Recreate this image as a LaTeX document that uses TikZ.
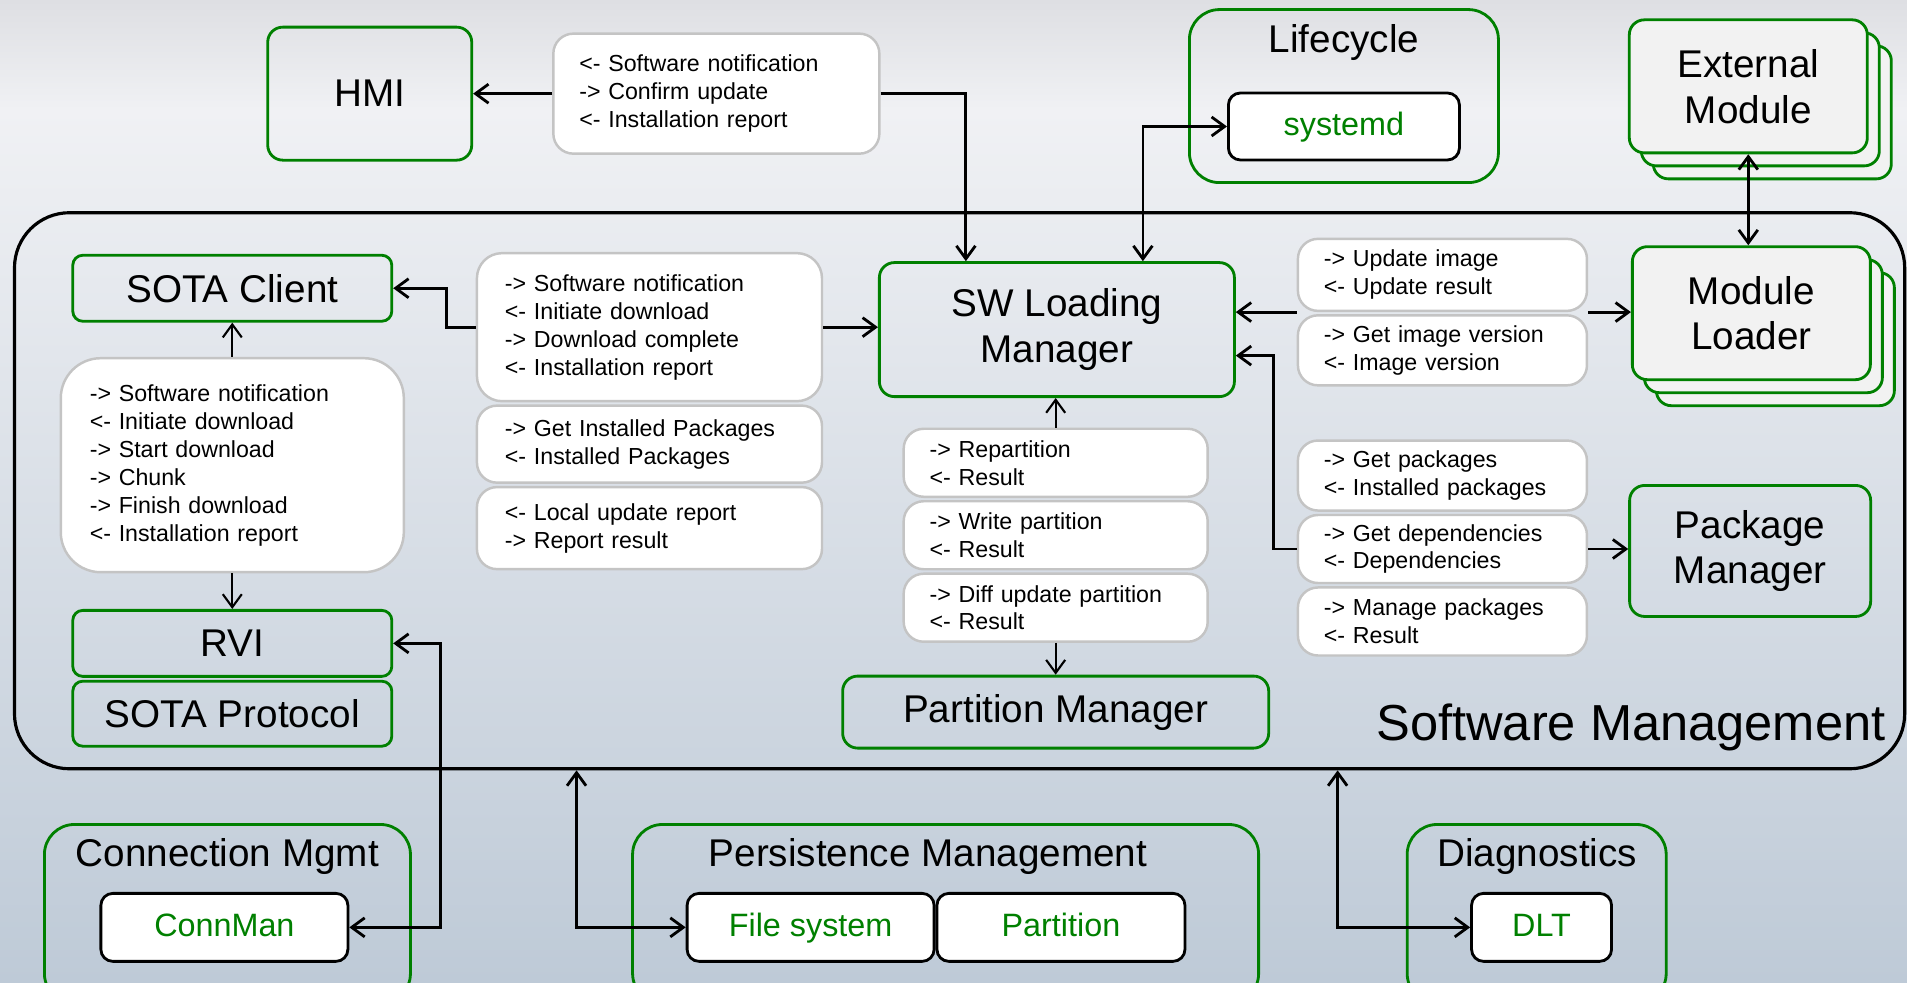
\documentclass[tikz,border=0pt]{standalone}
\usepackage{fontspec}
\setmainfont{Liberation Sans}
\usetikzlibrary{positioning,arrows.meta,shadows}

\definecolor{sgreen}{RGB}{0,128,0}
\definecolor{msgline}{RGB}{196,196,196}
\definecolor{modfill}{RGB}{242,242,242}
\definecolor{bgtop}{RGB}{222,223,227}
\definecolor{bgmid}{RGB}{240,241,244}
\definecolor{bgbot}{RGB}{190,202,215}

\begin{document}
\begin{tikzpicture}[
        x=0.012162cm,
        y=-0.012162cm,
        gbox/.style={
            rectangle,
            draw=sgreen,
            line width=0.8pt,
            rounded corners=0.15cm,
            align=center,
            font=\fontsize{11}{13}\selectfont
        },
        modbox/.style={
            gbox,
            fill=modfill,
            minimum width=2.38cm,
            minimum height=1.33cm,
            copy shadow={shadow xshift=0.24cm, shadow yshift=-0.26cm, draw=sgreen, fill=modfill, line width=0.8pt},
            copy shadow={shadow xshift=0.12cm, shadow yshift=-0.13cm, draw=sgreen, fill=modfill, line width=0.8pt}
        },
        msgbox/.style={
            rectangle,
            draw=msgline,
            fill=white,
            line width=0.7pt,
            rounded corners=0.2cm,
            align=left,
            inner xsep=0.26cm,
            inner ysep=0pt,
            font=\fontsize{6.6}{7.95}\selectfont
        },
        inbox/.style={
            rectangle,
            draw=black,
            fill=white,
            line width=0.8pt,
            rounded corners=0.12cm,
            text=sgreen,
            text height=0.72em,
            text depth=0.22em,
            minimum height=0.68cm,
            font=\fontsize{9.2}{11}\selectfont
        },
        group/.style={
            rectangle,
            draw=sgreen,
            line width=0.8pt,
            rounded corners=0.3cm
        },
        grouptitle/.style={
            font=\fontsize{11}{13}\selectfont
        },
        arrow/.style={
            ->,
            line width=0.8pt,
            >={Straight Barb[length=1.3mm,width=1.9mm]}
        },
        thinarrow/.style={
            arrow,
            line width=0.6pt
        },
        biarrow/.style={
            arrow,
            <->
        }
    ]

    % Background
    \useasboundingbox (0,0) rectangle (1568,808);
    \clip (0,0) rectangle (1568,808);
    \shade[top color=bgtop, bottom color=bgmid] (0,0) rectangle (1568,90);
    \shade[top color=bgmid, bottom color=bgbot] (0,90) rectangle (1568,808);

    % Software Management frame
    \node[rectangle, draw=black, line width=0.9pt, rounded corners=0.55cm,
          minimum width=18.9cm, minimum height=5.56cm] (sw_mgmt) at (789,403.5) {};
    \node[font=\fontsize{14.4}{17}\selectfont] (sw_mgmt_label) at (1341,598) {Software Management};

    % HMI
    \node[gbox, minimum width=2.04cm, minimum height=1.33cm] (hmi) at (304,77) {HMI};
    \node[msgbox, text width=2.74cm, minimum height=1.2cm] (hmi_msg) at (589,77)
        {<- Software notification\\-> Confirm update\\<- Installation report};

    % Lifecycle
    \node[group, minimum width=3.09cm, minimum height=1.73cm] (lifecycle) at (1105,79) {};
    \node[grouptitle] (lifecycle_title) at (1105,35) {Lifecycle};
    \node[inbox, minimum width=2.31cm, minimum height=0.67cm] (systemd) at (1105,104) {systemd};

    % External modules
    \node[modbox] (ext_module) at (1437.5,71) {External\\Module};
    \node[modbox] (mod_loader) at (1440,257.5) {Module\\Loader};

    % SOTA client side
    \node[gbox, rounded corners=0.1cm, minimum width=3.19cm, minimum height=0.66cm] (sota_client) at (191,237) {SOTA Client};
    \node[msgbox, rounded corners=0.4cm, inner xsep=0.29cm, text width=2.85cm, minimum height=2.14cm] (sota_msg) at (191,382.5)
        {-> Software notification\\<- Initiate download\\-> Start download\\-> Chunk\\-> Finish download\\<- Installation report};
    \node[gbox, rounded corners=0.1cm, minimum width=3.19cm, minimum height=0.66cm] (rvi) at (191,529) {RVI};
    \node[gbox, rounded corners=0.1cm, minimum width=3.19cm, minimum height=0.65cm, below=0.02cm of rvi] (sota_proto) {SOTA Protocol};

    % Messages to SW Loading Manager
    \node[msgbox, rounded corners=0.25cm, inner xsep=0.28cm, text width=2.89cm, minimum height=1.48cm] (cli_msg1) at (534,269)
        {-> Software notification\\<- Initiate download\\-> Download complete\\<- Installation report};
    \node[msgbox, inner xsep=0.28cm, text width=2.89cm, minimum height=0.77cm, below=0.02cm of cli_msg1] (cli_msg2)
        {-> Get Installed Packages\\<- Installed Packages};
    \node[msgbox, inner xsep=0.28cm, text width=2.89cm, minimum height=0.82cm, below=0.02cm of cli_msg2] (cli_msg3)
        {<- Local update report\\-> Report result};

    % SW Loading Manager
    \node[gbox, minimum width=3.55cm, minimum height=1.34cm] (swlm) at (869,271) {SW Loading\\Manager};

    % Partition messages
    \node[msgbox, text width=2.52cm, minimum height=0.68cm] (part_msg1) at (868,380.5) {-> Repartition\\<- Result};
    \node[msgbox, text width=2.52cm, minimum height=0.68cm, below=0.02cm of part_msg1] (part_msg2) {-> Write partition\\<- Result};
    \node[msgbox, text width=2.52cm, minimum height=0.68cm, below=0.02cm of part_msg2] (part_msg3) {-> Diff update partition\\<- Result};
    \node[gbox, minimum width=4.26cm, minimum height=0.72cm] (part_mgr) at (868,585.5) {Partition Manager};

    % Module loader messages
    \node[msgbox, text width=2.37cm, minimum height=0.72cm] (mod_msg1) at (1186,226) {-> Update image\\<- Update result};
    \node[msgbox, text width=2.37cm, minimum height=0.7cm, below=0.02cm of mod_msg1] (mod_msg2) {-> Get image version\\<- Image version};

    % Package messages
    \node[msgbox, text width=2.37cm, minimum height=0.7cm] (pkg_msg1) at (1186,391) {-> Get packages\\<- Installed packages};
    \node[msgbox, text width=2.37cm, minimum height=0.68cm, below=0.02cm of pkg_msg1] (pkg_msg2) {-> Get dependencies\\<- Dependencies};
    \node[msgbox, text width=2.37cm, minimum height=0.68cm, below=0.02cm of pkg_msg2] (pkg_msg3) {-> Manage packages\\<- Result};
    \node[gbox, minimum width=2.41cm, minimum height=1.31cm] (pkg_mgr) at (1439,453) {Package\\Manager};

    % Bottom groups
    \node[group, minimum width=3.66cm, minimum height=1.79cm] (conn_mgmt) at (187,751.5) {};
    \node[grouptitle] (conn_title) at (187,704) {Connection Mgmt};
    \node[inbox, minimum width=2.47cm] (connman) at (184.5,762.5) {ConnMan};

    \node[group, minimum width=6.26cm, minimum height=1.79cm] (persist) at (777.5,751.5) {};
    \node[grouptitle] (persist_title) at (763,704) {Persistence Management};
    \node[inbox, minimum width=2.47cm] (file_system) at (666.5,762.5) {File system};
    \node[inbox, minimum width=2.48cm, right=0cm of file_system] (partition) {Partition};

    \node[group, minimum width=2.59cm, minimum height=1.79cm] (diag) at (1263.5,751.5) {};
    \node[grouptitle] (diag_title) at (1264,704) {Diagnostics};
    \node[inbox, minimum width=1.4cm] (dlt) at (1267.5,762.5) {DLT};

    % Connections
    \draw[arrow] (hmi_msg.west) -- (hmi_msg.west -| hmi.east);
    \draw[arrow] (hmi_msg.east) -| ([xshift=-0.91cm]swlm.north);
    \draw[biarrow] ([xshift=0.86cm]swlm.north) |- (systemd.west);
    \draw[biarrow] (ext_module.south) -- (ext_module.south |- mod_loader.north);

    \draw[thinarrow] (sota_msg.north) -- (sota_client.south);
    \draw[thinarrow] (sota_msg.south) -- (rvi.north);
    \draw[arrow] (cli_msg1.west) -- ++(-0.29cm,0) |- (sota_client.east);
    \draw[arrow] (cli_msg1.east) -- (cli_msg1.east -| swlm.west);

    \draw[thinarrow] (part_msg1.north) -- (part_msg1.north |- swlm.south);
    \draw[thinarrow] (part_msg3.south) -- (part_msg3.south |- part_mgr.north);

    \draw[arrow] (mod_msg1.south west) -- (mod_msg1.south west -| swlm.east);
    \draw[arrow] (mod_msg1.south east) -- (mod_msg1.south east -| mod_loader.west);
    \draw[arrow] (pkg_msg2.west) -- ++(-0.23cm,0) |- ([yshift=-0.26cm]swlm.east);
    \draw[arrow] (pkg_msg2.east) -- (pkg_msg2.east -| pkg_mgr.west);

    % Connections to the bottom groups
    \draw[biarrow] (rvi.east) -- ++(0.47cm,0) |- (connman.east);
    \draw[biarrow] ([xshift=-3.83cm]sw_mgmt.south) |- (file_system.west);
    \draw[biarrow] ([xshift=3.78cm]sw_mgmt.south) |- (dlt.west);

\end{tikzpicture}
\end{document}
